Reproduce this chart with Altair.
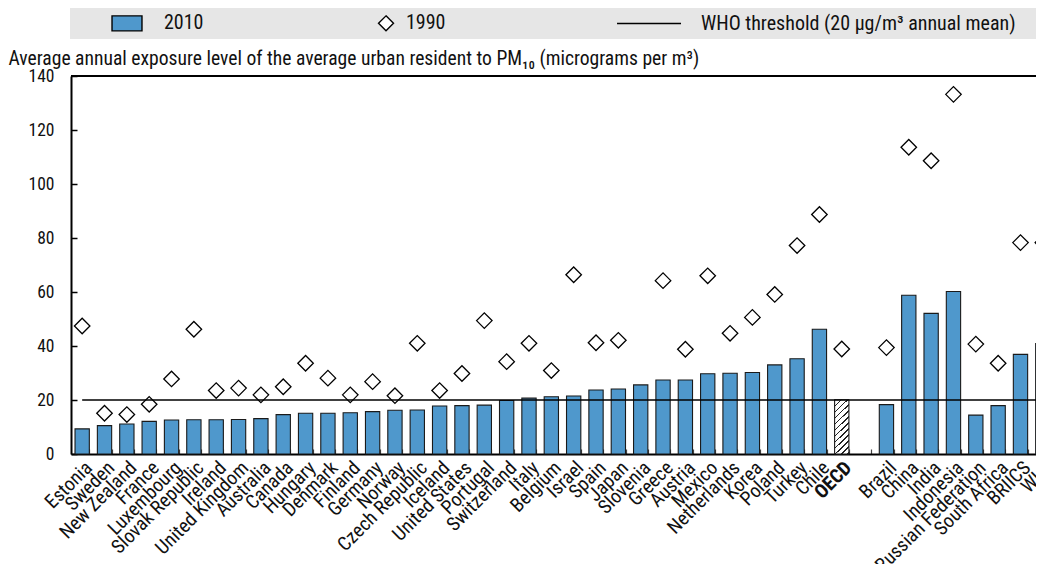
import altair as alt
import pandas as pd

FONT = "'Liberation Sans Narrow', 'Arial Narrow', 'Roboto Condensed', Roboto, sans-serif"

oecd_countries = ["Estonia", "Sweden", "New Zealand", "France", "Luxembourg", "Slovak Republic",
                  "Ireland", "United Kingdom", "Australia", "Canada", "Hungary", "Denmark", "Finland",
                  "Germany", "Norway", "Czech Republic", "Iceland", "United States", "Portugal",
                  "Switzerland", "Italy", "Belgium", "Israel", "Spain", "Japan", "Slovenia", "Greece",
                  "Austria", "Mexico", "Netherlands", "Korea", "Poland", "Turkey", "Chile"]
oecd_2010 = [9.3, 10.5, 11.1, 12.1, 12.6, 12.7, 12.7, 12.8, 13.1, 14.6, 15.1, 15.1, 15.3, 15.7,
             16.2, 16.3, 17.8, 17.9, 18.1, 19.8, 20.7, 21.2, 21.5, 23.7, 24.1, 25.6, 27.4, 27.4,
             29.7, 29.9, 30.2, 33.0, 35.3, 46.2]
oecd_1990 = [47.4, 15.1, 14.6, 18.4, 27.8, 46.2, 23.5, 24.4, 21.9, 24.9, 33.6, 28.1, 21.9, 26.8,
             21.6, 41.0, 23.5, 29.8, 49.4, 34.2, 41.0, 30.9, 66.4, 41.2, 42.1, None, 64.2, 38.8,
             66.0, 44.7, 50.6, 59.1, 77.2, 88.7]

oecd_total = "OECD"
oecd_total_2010 = 20.1
oecd_total_1990 = 38.9

gap = "_gap"

other_countries = ["Brazil", "China", "India", "Indonesia", "Russian Federation", "South Africa",
                   "BRIICS", "WLD"]
other_2010 = [18.3, 58.8, 52.1, 60.2, 14.4, 17.9, 36.9, 40.9]
other_1990 = [39.4, 113.6, 108.6, 133.2, 40.7, 33.6, 78.3, 78.3]

who_threshold = 20
y_ticks = [0, 20, 40, 60, 80, 100, 120, 140]

S2010 = "2010"
S1990 = "1990"
SWHO = "WHO threshold (20 µg/m³ annual mean)"

domain = oecd_countries + [oecd_total, gap] + other_countries

bars = pd.DataFrame({
    "country": oecd_countries + other_countries,
    "value": oecd_2010 + other_2010,
    "series": S2010,
})
oecd_bar = pd.DataFrame({"country": [oecd_total], "value": [oecd_total_2010]})
pts = pd.DataFrame({
    "country": oecd_countries + [oecd_total] + other_countries,
    "value": oecd_1990 + [oecd_total_1990] + other_1990,
    "series": S1990,
}).dropna()
who = pd.DataFrame({"country": [domain[0], domain[-1]], "value": [who_threshold, who_threshold]})
top = pd.DataFrame({"value": [y_ticks[-1]]})

W_VISIBLE = 965   # plot area visible inside the page (reference is cropped at the right)
W_FULL = 983      # full extent of the category axis
H = 378

x_enc = alt.X(
    "country:N",
    scale=alt.Scale(domain=domain, range=[0, W_FULL], paddingInner=0.36, paddingOuter=0.18),
    sort=domain,
    axis=alt.Axis(
        title=None,
        tickBand="extent",
        labelAngle=-45,
        labelFont=FONT,
        labelFontSize=19.5,
        labelColor="#111111",
        labelExpr="datum.value == '_gap' ? '' : datum.value",
        labelFontWeight=alt.expr("datum.value == 'OECD' ? 'bold' : 'normal'"),
        labelPadding=9,
        grid=True,
        gridColor="white",
        gridWidth=1.5,
        domainColor="black",
        domainWidth=2,
        tickSize=alt.expr("-5"),
        tickColor="#444444",
        tickWidth=1.2,
    ),
)
y_enc = alt.Y(
    "value:Q",
    scale=alt.Scale(domain=[0, 140], nice=False),
    axis=alt.Axis(
        values=y_ticks,
        title="Average annual exposure level of the average urban resident to PM₁₀ (micrograms per m³)",
        titleAngle=0,
        titleAlign="left",
        titleBaseline="alphabetic",
        titleX=-63,
        titleY=-12,
        titleFont=FONT,
        titleFontSize=19.6,
        titleFontWeight="normal",
        titleColor="#111111",
        labelFont=FONT,
        labelFontSize=17.5,
        labelColor="#111111",
        labelPadding=23,
        grid=True,
        gridColor="white",
        gridWidth=1.5,
        domainColor="black",
        domainWidth=2,
        tickSize=alt.expr("-6"),
        tickColor="black",
        tickWidth=1.5,
    ),
)

# legend symbols (unit = 7 px); trailing moveTo points only widen the entry
rect_path = "M3.86,-1.07H8.14V1.07H3.86Z"
diam_path = "M8.43,-1.07L9.5,0L8.43,1.07L7.36,0ZM24.1,0"
line_path = "M-0.71,0H8.43M60,0"
shape_expr = (
    f"datum.value === '{S2010}' ? '{rect_path}' : "
    f"(datum.value === '{S1990}' ? '{diam_path}' : '{line_path}')"
)

fill_scale = alt.Scale(domain=[S2010, S1990, SWHO], range=["#4f98cc", "#ffffff", "transparent"])

legend = alt.Legend(
    orient="none",
    legendX=-1,
    legendY=-68,
    direction="horizontal",
    title=None,
    fillColor="#e6e6e6",
    padding=5,
    columnPadding=113,
    symbolSize=196,
    symbolType=alt.expr(shape_expr),
    symbolStrokeColor="black",
    symbolStrokeWidth=1.4,
    symbolOpacity=1,
    labelFont=FONT,
    labelFontSize=20,
    labelColor="#111111",
    labelOffset=69,
    labelLimit=0,
)

bar_layer = alt.Chart(bars).mark_bar(stroke="#1a1a1a", strokeWidth=1.1).encode(
    x=x_enc, y=y_enc,
    fill=alt.Fill("series:N", scale=fill_scale, legend=legend),
)

stops = []
period = 0.0867
k = 0
while k * period < 1.0:
    s = k * period
    stops.append(alt.GradientStop(offset=min(s, 1.0), color="white"))
    stops.append(alt.GradientStop(offset=min(s + 0.0001, 1.0), color="#222222"))
    stops.append(alt.GradientStop(offset=min(s + 0.02, 1.0), color="#222222"))
    stops.append(alt.GradientStop(offset=min(s + 0.0201, 1.0), color="white"))
    k += 1
stops.append(alt.GradientStop(offset=1.0, color="white"))

hatch = alt.LinearGradient(gradient="linear", stops=stops, x1=0, y1=0, x2=0.31, y2=1.2)

oecd_layer = alt.Chart(oecd_bar).mark_bar(fill=hatch, stroke="#1a1a1a", strokeWidth=1.1).encode(
    x=x_enc, y=y_enc,
)

who_layer = alt.Chart(who).mark_line(color="black", strokeWidth=1.6).encode(x=x_enc, y=y_enc)

pt_layer = alt.Chart(pts).mark_point(
    shape="diamond", size=240, filled=True, stroke="black", strokeWidth=1.3, opacity=1
).encode(
    x=x_enc, y=y_enc,
    fill=alt.Fill("series:N", scale=fill_scale, legend=legend),
)

top_layer = alt.Chart(top).mark_rule(color="black", strokeWidth=2).encode(y=y_enc)

chart = alt.layer(bar_layer, oecd_layer, pt_layer, who_layer, top_layer).properties(
    width=W_VISIBLE, height=H,
    autosize=alt.AutoSizeParams(type="none"),
    padding={"left": 63, "top": 68, "right": 0, "bottom": 110},
).configure_view(
    fill="#eaf1f9", stroke=None,
).configure(
    font=FONT,
)

chart.save("out.html", embed_options={"renderer": "svg", "actions": False})
